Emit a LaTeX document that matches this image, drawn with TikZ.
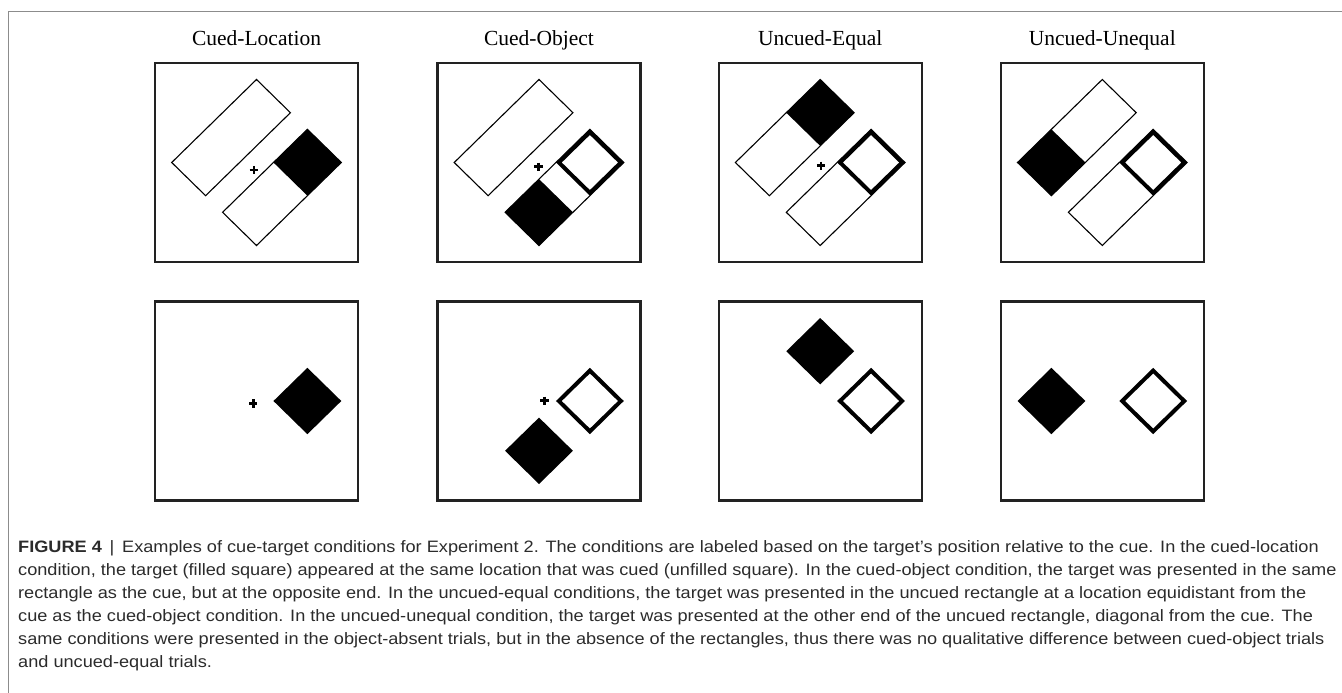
\documentclass[tikz,border=0pt]{standalone}
\usepackage{fontspec}
\setmainfont{Liberation Serif}
\newfontfamily\capfont[FakeStretch=1.1]{Liberation Sans}
\usetikzlibrary{positioning}

\definecolor{framegray}{HTML}{8C8C8C}
\definecolor{boxgray}{HTML}{222222}
\definecolor{captext}{HTML}{2B2B2B}

\tikzset{
  panel/.style={draw=boxgray, line width=2.2pt, minimum width=203pt, minimum height=199pt, inner sep=0pt, outer sep=0pt},
  condlabel/.style={font=\fontsize{21.5}{24}\selectfont, anchor=base, inner sep=0pt},
  diag/.style={x={(42.4pt,41.5pt)}, y={(42.4pt,-41.5pt)}},
  objrect/.style={draw=black, line width=1.1pt},
  target/.style={fill=black},
  cuesq/.style={draw=black, line width=4pt},
  fixbar/.style={draw=black, line width=2.6pt},
}

% a box in diag units, corners (a1,b1) and (a2,b2)
\newcommand{\dbox}[4]{(#1,#2) -- (#3,#2) -- (#3,#4) -- (#1,#4) -- cycle}
% the two rectangles, the cued end and a filled target
\newcommand{\objrects}{%
  \draw[objrect] \dbox{-1}{-1}{1}{-0.2};
  \draw[objrect] \dbox{-1}{0.2}{1}{1};}
\newcommand{\cuemark}{\draw[cuesq] \dbox{0.234}{0.234}{0.966}{0.966};}
\newcommand{\targetat}[2]{\fill[target] (#1,#2) -- ++(0.8,0) -- ++(0,0.8) -- ++(-0.8,0) -- cycle;}
\newcommand{\fixcross}[1]{\draw[fixbar] (#1) +(-4.2,0) -- +(4.2,0) (#1) +(0,-4.2) -- +(0,4.2);}

\begin{document}
\begin{tikzpicture}[x=1pt, y=-1pt]
  \useasboundingbox (0,0) rectangle (1342,693);
  \draw[framegray, line width=1.5pt] (8.3,693) -- (8.3,11.7) -- (1342,11.7);

  \foreach \n/\cx/\lbl in {1/256.5/Cued-Location, 2/539/Cued-Object, 3/820.2/Uncued-Equal, 4/1102.3/Uncued-Unequal} {
    \node[condlabel] (lab\n) at (\cx,46) {\lbl};
    \node[panel] (top\n) at (\cx,162.5) {};
    \node[panel] (bot\n) at (\cx,401) {};
  }

  % objects present
  \begin{scope}[shift={(top1.center)}, diag]
    \objrects
    \targetat{0.2}{0.2}
  \end{scope}
  \begin{scope}[shift={(top2.center)}, diag]
    \objrects
    \targetat{-1}{0.2}
    \cuemark
  \end{scope}
  \begin{scope}[shift={(top3.center)}, diag]
    \objrects
    \targetat{0.2}{-1}
    \cuemark
  \end{scope}
  \begin{scope}[shift={(top4.center)}, diag]
    \objrects
    \targetat{-1}{-1}
    \cuemark
  \end{scope}

  % objects absent
  \begin{scope}[shift={(bot1.center)}, diag]
    \targetat{0.2}{0.2}
  \end{scope}
  \begin{scope}[shift={(bot2.center)}, diag]
    \targetat{-1}{0.2}
    \cuemark
  \end{scope}
  \begin{scope}[shift={(bot3.center)}, diag]
    \targetat{0.2}{-1}
    \cuemark
  \end{scope}
  \begin{scope}[shift={(bot4.center)}, diag]
    \targetat{-1}{-1}
    \cuemark
  \end{scope}

  % fixation crosses
  \coordinate (fix1) at (253.9,170);
  \coordinate (fix2) at (538.6,166.7);
  \coordinate (fix3) at (821,165.7);
  \coordinate (fix5) at (253.2,403.3);
  \coordinate (fix6) at (544.3,400.7);
  \foreach \f in {fix1,fix2,fix3,fix5,fix6} {\fixcross{\f}}

  \node[anchor=north west, align=left, inner sep=0pt, text=captext, font=\capfont\fontsize{16.5}{23}\selectfont] (caption) at (18,540) {%
    \textbf{FIGURE 4} \,|\, Examples of cue-target conditions for Experiment 2. The conditions are labeled based on the target’s position relative to the cue. In the cued-location\\
    condition, the target (filled square) appeared at the same location that was cued (unfilled square). In the cued-object condition, the target was presented in the same\\
    rectangle as the cue, but at the opposite end. In the uncued-equal conditions, the target was presented in the uncued rectangle at a location equidistant from the\\
    cue as the cued-object condition. In the uncued-unequal condition, the target was presented at the other end of the uncued rectangle, diagonal from the cue. The\\
    same conditions were presented in the object-absent trials, but in the absence of the rectangles, thus there was no qualitative difference between cued-object trials\\
    and uncued-equal trials.};
\end{tikzpicture}
\end{document}
